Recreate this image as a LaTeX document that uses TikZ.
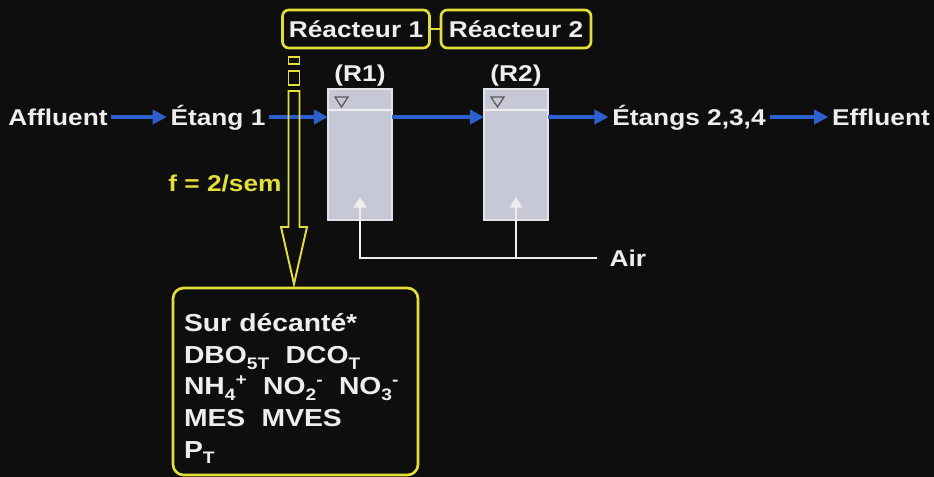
\documentclass[tikz,border=0pt]{standalone}
\usepackage{fontspec}
\setmainfont{Liberation Sans}[FakeStretch=1.15]
\usetikzlibrary{arrows.meta,calc}
\definecolor{fond}{RGB}{14,14,14}
\definecolor{bleu}{RGB}{45,95,205}
\definecolor{jaune}{RGB}{228,222,58}
\definecolor{cuve}{RGB}{198,200,213}
\definecolor{blanc}{RGB}{238,238,238}
\newcommand\ind[1]{\raisebox{-0.45ex}{\fontsize{9.5}{9.5}\selectfont #1}}
\newcommand\expo[1]{\raisebox{0.75ex}{\fontsize{9.5}{9.5}\selectfont #1}}
\tikzstyle{lbl} = [text=blanc, font=\fontsize{13}{17.6}\selectfont\bfseries, inner sep=2pt, text height=10pt, text depth=0pt]
\tikzstyle{cadre} = [lbl, draw=jaune, line width=1.5pt, rounded corners=3.5pt, inner sep=0pt]
\tikzstyle{reac} = [draw=blanc!70!cuve, fill=cuve, line width=0.6pt, minimum width=1.28cm, minimum height=2.62cm, inner sep=0pt, outer sep=0pt]
\tikzstyle{flux} = [style={-{Triangle[length=8pt,width=8pt]},draw=bleu,line width=2.8pt}]
\tikzstyle{air} = [style={-{Triangle[length=6pt,width=7pt]},draw=blanc,line width=1.6pt}]
\tikzstyle{lien} = [draw=jaune, line width=1.5pt]
\tikzstyle{fleche} = [draw=jaune, line width=1.1pt, line join=miter]

\begin{document}
\begin{tikzpicture}[x=0.02cm,y=-0.02cm]
        \fill[fond] (0,0) rectangle (934,477);
        \useasboundingbox (0,0) rectangle (934,477);
        % ligne d'eau
        \node[lbl] (aff) at (58,117) {Affluent};
        \node[lbl] (et1) at (218,117) {Étang 1};
        \node[reac] (R1) at (360,154.5) {};
        \node[reac] (R2) at (516,154.5) {};
        \node[lbl] (et2) at (689,117) {Étangs 2,3,4};
        \node[lbl] (eff) at (881,117) {Effluent};
        \node[lbl] (r1lbl) at (360,73) {(R1)};
        \node[lbl] (r2lbl) at (516,73) {(R2)};
        \node[cadre, minimum width=2.94cm, minimum height=0.76cm] (re1) at (356,29) {Réacteur 1};
        \node[cadre, minimum width=3.0cm, minimum height=0.76cm] (re2) at (516,29) {Réacteur 2};
        \node[lbl, text=jaune] (freq) at (225,183) {f = 2/sem};
        \node[lbl, anchor=west, inner xsep=7pt] (air) at (597,258) {Air};
        \node[cadre, align=left, text height=, text depth=, minimum width=4.9cm, minimum height=3.74cm,
              text width=4.46cm, rounded corners=6pt, font=\fontsize{14}{18}\selectfont\bfseries] (ana) at (295.5,381.5)
              {\rule{0pt}{18.5pt}Sur décanté*\\
               DBO\ind{5T}\ \ DCO\ind{T}\\
               NH\ind{4}\expo{+}\ \ NO\ind{2}\expo{-}\ \ NO\ind{3}\expo{-}\\
               MES\ \ MVES\\
               P\ind{T}};
        % details des cuves
        \foreach \r in {R1,R2} {
          \draw[blanc, line width=1.2pt] ($(\r.north west)+(0,21)$) -- ($(\r.north east)+(0,21)$);
          \draw[gray!70!black, line width=0.7pt] ($(\r.north west)+(7,8)$) -- ++(13,0) -- ++(-6.5,10) -- cycle;
        }
        \draw[flux] (aff) -- (et1);
        \draw[flux] (et1.east) -- (et1.east -| R1.west);
        \draw[flux] (R1.east |- et1.east) -- (R2.west |- et1.east);
        \draw[flux] (R2.east |- et2.west) -- (et2.west);
        \draw[flux] (et2) -- (eff);
        % aeration
        \draw[air] (air.west) -- (R1.south |- air.west) -- ($(R1.south)+(0,-23)$);
        \draw[air] (R2.south |- air.west) -- ($(R2.south)+(0,-23)$);
        % prelevements
        \draw[lien] (re1) -- (re2);
        \draw[fleche] (288.5,57) rectangle (299.5,64);
        \draw[fleche] (288.5,71) rectangle (299.5,85);
        \draw[fleche] (288.5,91) -- (299.5,91) -- (299.5,227) -- (307,227) -- (294,284)
                      -- (281,227) -- (288.5,227) -- cycle;
      \end{tikzpicture}
\end{document}
